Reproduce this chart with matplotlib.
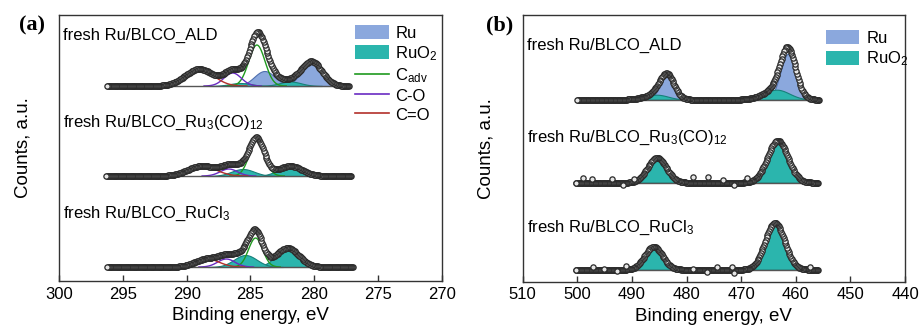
import numpy as np
import matplotlib
matplotlib.use("Agg")
import matplotlib.pyplot as plt
from matplotlib.patches import Patch
from matplotlib.lines import Line2D

plt.rcParams['font.family'] = ['Liberation Sans', 'DejaVu Sans']
plt.rcParams['mathtext.fontset'] = 'custom'
plt.rcParams['mathtext.rm'] = 'Liberation Sans'
plt.rcParams['mathtext.it'] = 'Liberation Sans:italic'
plt.rcParams['mathtext.bf'] = 'Liberation Sans:bold'

# ---------------- data ----------------
sample_labels = [r"fresh Ru/BLCO_ALD",
                 r"fresh Ru/BLCO_Ru$_3$(CO)$_{12}$",
                 r"fresh Ru/BLCO_RuCl$_3$"]

# Panel (a): C 1s + Ru 3d region. Components: (center eV, height, FWHM eV)
a_offsets = [195, 105, 14]
a_ranges = [(296.3, 277.3), (296.3, 277.1), (296.3, 277.0)]
a_ru = [[(280.2, 24, 1.9), (283.9, 15, 1.9)], [], []]
a_ruo2 = [[(281.9, 4.5, 2.0), (285.8, 3, 2.0)],
          [(281.9, 10, 2.2), (285.6, 7, 2.1)],
          [(282.1, 19, 2.1), (285.4, 12, 2.1)]]
a_cadv = [(284.5, 41, 1.5), (284.5, 35, 1.4), (284.6, 29, 1.3)]
a_co = [(286.4, 13, 1.6), (286.7, 7, 1.6), (286.9, 8, 1.6)]
a_cdo = [(289.0, 17, 2.6), (288.8, 10, 2.6), (288.4, 8, 2.2)]

# Panel (b): Ru 3p region
b_offsets = [182, 99, 12]
b_ranges = [(500.1, 455.7), (500.4, 455.9), (500.4, 455.9)]
b_ru = [[(483.6, 23, 3.1), (461.4, 46, 3.3)], [], []]
b_ruo2 = [[(485.5, 5, 5.0), (463.5, 10, 5.5)],
          [(485.4, 25, 4.0), (463.3, 42, 4.4)],
          [(486.0, 23, 3.8), (463.8, 47, 4.2)]]
# visible scattered points (energy, deviation from fit)
b_scatter_e = [[], [499.0, 497.4, 493.7, 491.6, 489.7, 478.8, 476.0, 473.3, 471.4, 469.0],
               [497.1, 495.2, 492.8, 491.0, 478.8, 476.3, 474.5, 471.7, 471.4, 457.4]]
b_scatter_d = [[], [5.0, 3.5, 4.0, -2.0, 2.5, 5.5, 6.0, 2.5, -2.0, 4.5],
               [2.5, 1.0, -1.3, 3.5, 1.0, -2.0, 2.5, 2.5, -3.5, 2.5]]

a_ticks = [300, 295, 290, 285, 280, 275, 270]
b_ticks = [510, 500, 490, 480, 470, 460, 450, 440]

RU_FILL, RU_EDGE = '#8ba8dd', '#4f6fae'
RUO2_FILL, RUO2_EDGE = '#2bb5ad', '#17807a'
C_GREEN, C_PURPLE, C_RED = '#1f9a1f', '#6a2bc2', '#b3302a'


def peak(e, c, h, w):
    return h * np.exp(-4 * np.log(2) * ((e - c) / w) ** 2)


def comp_sum(e, comps):
    tot = np.zeros_like(e)
    for c, h, w in comps:
        tot += peak(e, c, h, w)
    return tot


fig = plt.figure(figsize=(9.21, 3.28), dpi=100)
ax_a = fig.add_axes([59 / 921, 1 - 281 / 328, 383 / 921, 266 / 328])
ax_b = fig.add_axes([522.7 / 921, 1 - 281.7 / 328, 382.3 / 921, 266.7 / 328])

MK = dict(ls='none', marker='o', ms=3.8, mfc='#e6e6e6', mec='#2a2a2a', mew=0.9, zorder=6)


def draw_spectrum(ax, e0, e1, step, off, fills, lines, scat_e=(), scat_d=()):
    e = np.arange(e1, e0 + 1e-9, step)
    allc = []
    for comps, fc, ec, z in fills:
        allc += comps
    for comps, col in lines:
        allc += comps
    for comps, fc, ec, z in fills:
        for c in comps:
            y = peak(e, *c)
            ax.fill_between(e, off, off + y, where=y > 0.05, color=fc, ec=ec, lw=0.8, zorder=z)
    for comps, col in lines:
        for c in comps:
            y = peak(e, *c)
            m = y > 0.05
            ax.plot(e[m], off + y[m], color=col, lw=1.0, zorder=4)
    ax.plot([e0, e1], [off, off], color='#555555', lw=1.0, zorder=4)
    env = comp_sum(e, allc)
    ax.plot(e, off + env, color='#2a2a2a', lw=1.6, zorder=5)
    ax.plot(e, off + env, **MK)
    if len(scat_e):
        se = np.array(scat_e)
        sy = off + comp_sum(se, allc) + np.array(scat_d)
        ax.plot(se, sy, **MK)


for i in range(3):
    draw_spectrum(ax_a, a_ranges[i][0], a_ranges[i][1], 0.07, a_offsets[i],
                  [(a_ru[i], RU_FILL, RU_EDGE, 2), (a_ruo2[i], RUO2_FILL, RUO2_EDGE, 3)],
                  [([a_cadv[i]], C_GREEN), ([a_co[i]], C_PURPLE), ([a_cdo[i]], C_RED)])
    draw_spectrum(ax_b, b_ranges[i][0], b_ranges[i][1], 0.15, b_offsets[i],
                  [(b_ru[i], RU_FILL, RU_EDGE, 2), (b_ruo2[i], RUO2_FILL, RUO2_EDGE, 3)],
                  [], b_scatter_e[i], b_scatter_d[i])

label_y_a = [0.925, 0.595, 0.254]
label_y_b = [0.8875, 0.541, 0.2025]
for i in range(3):
    ax_a.text(0.011, label_y_a[i], sample_labels[i], transform=ax_a.transAxes,
              fontsize=12, va='center', ha='left')
    ax_b.text(0.011, label_y_b[i], sample_labels[i], transform=ax_b.transAxes,
              fontsize=12, va='center', ha='left')

for ax, ticks, ylim in [(ax_a, a_ticks, 266), (ax_b, b_ticks, 266.7)]:
    ax.set_xlim(ticks[0], ticks[-1])
    ax.set_ylim(0, ylim)
    ax.set_xticks(ticks)
    ax.set_yticks([])
    ax.tick_params(axis='x', direction='in', length=4, width=1, labelsize=12, pad=4, color='#333333')
    for s in ax.spines.values():
        s.set_color('#333333')
        s.set_linewidth(1.0)
    ax.set_xlabel('Binding energy, eV', fontsize=13.5, labelpad=4)
    ax.set_ylabel('Counts, a.u.', fontsize=13.5, labelpad=20)

handles_a = [Patch(fc=RU_FILL, ec='none', label='Ru'),
             Patch(fc=RUO2_FILL, ec='none', label=r'RuO$_2$'),
             Line2D([], [], color=C_GREEN, lw=1.2, label=r'C$_{\mathrm{adv}}$'),
             Line2D([], [], color=C_PURPLE, lw=1.2, label='C-O'),
             Line2D([], [], color=C_RED, lw=1.2, label='C=O')]
ax_a.legend(handles=handles_a, loc='upper left', bbox_to_anchor=(0.765, 0.975), frameon=False,
            fontsize=12, handlelength=2.0, handleheight=0.9, labelspacing=0.2,
            handletextpad=0.4, borderaxespad=0, borderpad=0.2)
handles_b = handles_a[:2]
ax_b.legend(handles=handles_b, loc='upper left', bbox_to_anchor=(0.785, 0.955), frameon=False,
            fontsize=12, handlelength=2.0, handleheight=0.9, labelspacing=0.2,
            handletextpad=0.4, borderaxespad=0, borderpad=0.2)

fig.text(31.7 / 921, 1 - 25 / 328, '(a)', fontsize=16, fontweight='bold',
         family='Liberation Serif', ha='center', va='center')
fig.text(500 / 921, 1 - 25 / 328, '(b)', fontsize=16, fontweight='bold',
         family='Liberation Serif', ha='center', va='center')

fig.savefig('out.png', dpi=100)
